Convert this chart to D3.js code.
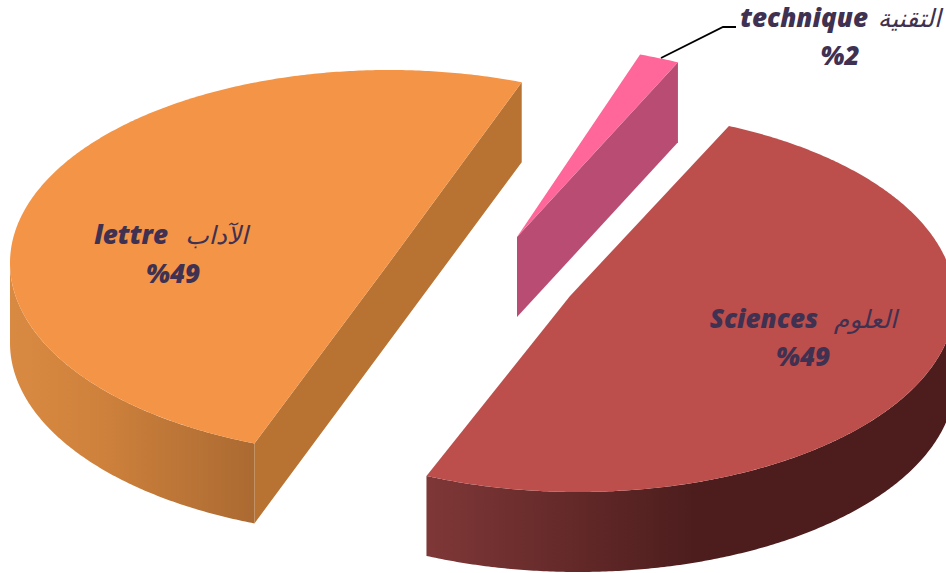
<!DOCTYPE html>
<html>
<head>
<meta charset="utf-8">
<script src="https://cdnjs.cloudflare.com/ajax/libs/d3/7.8.5/d3.min.js"></script>
<style>
html,body{margin:0;padding:0;background:#fff;overflow:hidden}
svg{display:block}
text{fill:#3f3151;font-style:italic}
.lat{font-family:"Open Sans","Noto Sans",sans-serif;font-weight:800;font-size:26px}
.ara{font-family:"DejaVu Sans",sans-serif;font-weight:400;font-size:25px}
</style>
</head>
<body>
<svg id="c" width="946" height="573"></svg>
<script>
const categories = ["technique", "Sciences", "lettre"];
const arabicNames = ["التقنية", "العلوم", "الآداب"];
const values = [2, 49, 49];
const percentLabels = ["%2", "%49", "%49"];

const DEPTH = 80;
const rad = Math.PI / 180;
const layout = [
  {cx: 517, cy: 237, rx: 378, ry: 193, apx: 517, apy: 237, ds: 0, de: -1.0, top: "#ff6699", cw: "#b84c73",
   lx: 868, ly: 27, ax: 941, px: 840, py: 65},
  {cx: 578, cy: 301, rx: 377, ry: 191, apx: 570, apy: 296, ds: -2.6, de: 1.1, top: "#bc4e4c", wall: "wr",
   lx: 818, ly: 328, ax: 897, px: 803, py: 366},
  {cx: 389, cy: 263, rx: 379, ry: 193, apx: 389, apy: 263, ds: -1.8, de: 1.5, top: "#f49446", wall: "wo", cw: "#b87333",
   lx: 168, ly: 244, ax: 248, px: 173, py: 283}
];

const svg = d3.select("#c");
const defs = svg.append("defs");
function grad(id, x1, x2, stops){
  const g = defs.append("linearGradient").attr("id", id)
    .attr("gradientUnits", "userSpaceOnUse")
    .attr("x1", x1).attr("x2", x2).attr("y1", 0).attr("y2", 0);
  stops.forEach(s => g.append("stop").attr("offset", s[0]).attr("stop-color", s[1]));
}
grad("wo", 10, 254, [[0, "#d98a42"], [0.35, "#cf823c"], [1, "#ab6a32"]]);
grad("wr", 427, 960, [[0, "#7f3737"], [0.5, "#4d1d1d"], [1, "#4d1d1d"]]);

const pie = d3.pie().sort(null).value(d => d).startAngle(19 * rad).endAngle(379 * rad);
const arcs = pie(values);
const line = d3.line();

function pt(l, a, dy){ return [l.cx + l.rx * Math.sin(a), l.cy - l.ry * Math.cos(a) + (dy || 0)]; }
function samp(a0, a1){
  const n = Math.max(2, Math.ceil(Math.abs(a1 - a0) / (0.5 * rad)));
  return d3.range(n + 1).map(i => a0 + (a1 - a0) * i / n);
}

// draw back to front: lettre, technique, Sciences
[2, 0, 1].forEach(i => {
  const l = layout[i];
  const a0 = arcs[i].startAngle + l.ds * rad, a1 = arcs[i].endAngle + l.de * rad;
  const g = svg.append("g");
  // cut wall facing the viewer
  if (l.cw) {
    const p = pt(l, a1);
    const poly = [[l.apx, l.apy], p, [p[0], p[1] + DEPTH], [l.apx, l.apy + DEPTH]];
    if (i === 2) {
      const q = pt(l, a0);
      poly.length = 0;
      poly.push(p, [p[0], p[1] + DEPTH], [q[0], q[1] + DEPTH], q, [l.apx, l.apy]);
    }
    g.append("path").attr("d", line(poly) + "Z").attr("fill", l.cw);
  }
  // outer wall: front half of the ellipse only
  const f0 = Math.max(a0, 90 * rad), f1 = Math.min(a1, 270 * rad);
  if (l.wall && f1 > f0) {
    const s = samp(f0, f1);
    const poly = s.map(a => pt(l, a)).concat(s.slice().reverse().map(a => pt(l, a, DEPTH)));
    g.append("path").attr("d", line(poly) + "Z").attr("fill", `url(#${l.wall})`);
  }
  // top face
  const topPts = [[l.apx, l.apy]].concat(samp(a0, a1).map(a => pt(l, a)));
  g.append("path").attr("d", line(topPts) + "Z").attr("fill", l.top);
});

// leader line
svg.append("path")
  .attr("d", line([[661, 58], [723, 27], [736, 27]]))
  .attr("fill", "none").attr("stroke", "#000").attr("stroke-width", 1.8);

// labels
categories.forEach((c, i) => {
  const l = layout[i];
  svg.append("text").attr("class", "lat").attr("x", l.lx).attr("y", l.ly)
    .attr("text-anchor", "end").text(c);
  svg.append("text").attr("class", "ara").attr("x", l.ax).attr("y", l.ly)
    .attr("direction", "rtl").attr("unicode-bidi", "plaintext")
    .style("text-anchor", "start").text(arabicNames[i]);
  svg.append("text").attr("class", "lat").attr("x", l.px).attr("y", l.py)
    .attr("text-anchor", "middle").text(percentLabels[i]);
});
</script>
</body>
</html>
